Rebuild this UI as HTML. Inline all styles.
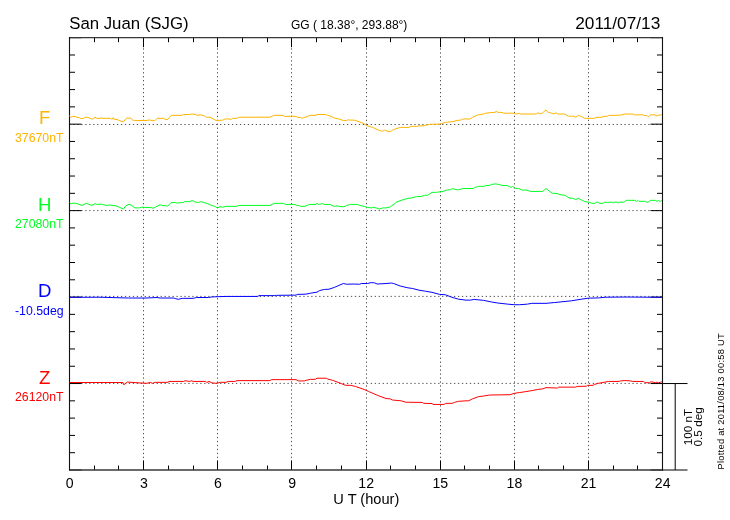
<!DOCTYPE html><html><head><meta charset="utf-8"><style>html,body{margin:0;padding:0;background:#fff;overflow:hidden;}svg{display:block;will-change:transform;}text{font-family:"Liberation Sans",sans-serif;}</style></head><body>
<svg width="730" height="520" viewBox="0 0 730 520">
<line x1="143.50" y1="37.7" x2="143.50" y2="470.0" stroke="#505050" stroke-width="1" stroke-dasharray="1.3 2.665" stroke-dashoffset="1.245"/>
<line x1="217.50" y1="37.7" x2="217.50" y2="470.0" stroke="#505050" stroke-width="1" stroke-dasharray="1.3 2.665" stroke-dashoffset="1.245"/>
<line x1="291.50" y1="37.7" x2="291.50" y2="470.0" stroke="#505050" stroke-width="1" stroke-dasharray="1.3 2.665" stroke-dashoffset="1.245"/>
<line x1="366.50" y1="37.7" x2="366.50" y2="470.0" stroke="#505050" stroke-width="1" stroke-dasharray="1.3 2.665" stroke-dashoffset="1.245"/>
<line x1="440.50" y1="37.7" x2="440.50" y2="470.0" stroke="#505050" stroke-width="1" stroke-dasharray="1.3 2.665" stroke-dashoffset="1.245"/>
<line x1="514.50" y1="37.7" x2="514.50" y2="470.0" stroke="#505050" stroke-width="1" stroke-dasharray="1.3 2.665" stroke-dashoffset="1.245"/>
<line x1="588.50" y1="37.7" x2="588.50" y2="470.0" stroke="#505050" stroke-width="1" stroke-dasharray="1.3 2.665" stroke-dashoffset="1.245"/>
<line x1="69.5" y1="124.50" x2="662.50" y2="124.50" stroke="#505050" stroke-width="1" stroke-dasharray="1.3 2.665" stroke-dashoffset="0.110"/>
<line x1="69.5" y1="210.60" x2="662.50" y2="210.60" stroke="#505050" stroke-width="1" stroke-dasharray="1.3 2.665" stroke-dashoffset="0.110"/>
<line x1="69.5" y1="296.40" x2="662.50" y2="296.40" stroke="#505050" stroke-width="1" stroke-dasharray="1.3 2.665" stroke-dashoffset="0.110"/>
<line x1="69.5" y1="383.40" x2="662.50" y2="383.40" stroke="#505050" stroke-width="1" stroke-dasharray="1.3 2.665" stroke-dashoffset="0.110"/>
<line x1="69.50" y1="470.0" x2="69.50" y2="460.5" stroke="#000" stroke-width="1"/>
<line x1="69.50" y1="37.7" x2="69.50" y2="47.2" stroke="#000" stroke-width="1"/>
<line x1="94.50" y1="470.0" x2="94.50" y2="465.5" stroke="#000" stroke-width="1"/>
<line x1="94.50" y1="37.7" x2="94.50" y2="42.2" stroke="#000" stroke-width="1"/>
<line x1="118.50" y1="470.0" x2="118.50" y2="465.5" stroke="#000" stroke-width="1"/>
<line x1="118.50" y1="37.7" x2="118.50" y2="42.2" stroke="#000" stroke-width="1"/>
<line x1="143.50" y1="470.0" x2="143.50" y2="460.5" stroke="#000" stroke-width="1"/>
<line x1="143.50" y1="37.7" x2="143.50" y2="47.2" stroke="#000" stroke-width="1"/>
<line x1="168.50" y1="470.0" x2="168.50" y2="465.5" stroke="#000" stroke-width="1"/>
<line x1="168.50" y1="37.7" x2="168.50" y2="42.2" stroke="#000" stroke-width="1"/>
<line x1="193.50" y1="470.0" x2="193.50" y2="465.5" stroke="#000" stroke-width="1"/>
<line x1="193.50" y1="37.7" x2="193.50" y2="42.2" stroke="#000" stroke-width="1"/>
<line x1="217.50" y1="470.0" x2="217.50" y2="460.5" stroke="#000" stroke-width="1"/>
<line x1="217.50" y1="37.7" x2="217.50" y2="47.2" stroke="#000" stroke-width="1"/>
<line x1="242.50" y1="470.0" x2="242.50" y2="465.5" stroke="#000" stroke-width="1"/>
<line x1="242.50" y1="37.7" x2="242.50" y2="42.2" stroke="#000" stroke-width="1"/>
<line x1="267.50" y1="470.0" x2="267.50" y2="465.5" stroke="#000" stroke-width="1"/>
<line x1="267.50" y1="37.7" x2="267.50" y2="42.2" stroke="#000" stroke-width="1"/>
<line x1="291.50" y1="470.0" x2="291.50" y2="460.5" stroke="#000" stroke-width="1"/>
<line x1="291.50" y1="37.7" x2="291.50" y2="47.2" stroke="#000" stroke-width="1"/>
<line x1="316.50" y1="470.0" x2="316.50" y2="465.5" stroke="#000" stroke-width="1"/>
<line x1="316.50" y1="37.7" x2="316.50" y2="42.2" stroke="#000" stroke-width="1"/>
<line x1="341.50" y1="470.0" x2="341.50" y2="465.5" stroke="#000" stroke-width="1"/>
<line x1="341.50" y1="37.7" x2="341.50" y2="42.2" stroke="#000" stroke-width="1"/>
<line x1="366.50" y1="470.0" x2="366.50" y2="460.5" stroke="#000" stroke-width="1"/>
<line x1="366.50" y1="37.7" x2="366.50" y2="47.2" stroke="#000" stroke-width="1"/>
<line x1="390.50" y1="470.0" x2="390.50" y2="465.5" stroke="#000" stroke-width="1"/>
<line x1="390.50" y1="37.7" x2="390.50" y2="42.2" stroke="#000" stroke-width="1"/>
<line x1="415.50" y1="470.0" x2="415.50" y2="465.5" stroke="#000" stroke-width="1"/>
<line x1="415.50" y1="37.7" x2="415.50" y2="42.2" stroke="#000" stroke-width="1"/>
<line x1="440.50" y1="470.0" x2="440.50" y2="460.5" stroke="#000" stroke-width="1"/>
<line x1="440.50" y1="37.7" x2="440.50" y2="47.2" stroke="#000" stroke-width="1"/>
<line x1="464.50" y1="470.0" x2="464.50" y2="465.5" stroke="#000" stroke-width="1"/>
<line x1="464.50" y1="37.7" x2="464.50" y2="42.2" stroke="#000" stroke-width="1"/>
<line x1="489.50" y1="470.0" x2="489.50" y2="465.5" stroke="#000" stroke-width="1"/>
<line x1="489.50" y1="37.7" x2="489.50" y2="42.2" stroke="#000" stroke-width="1"/>
<line x1="514.50" y1="470.0" x2="514.50" y2="460.5" stroke="#000" stroke-width="1"/>
<line x1="514.50" y1="37.7" x2="514.50" y2="47.2" stroke="#000" stroke-width="1"/>
<line x1="538.50" y1="470.0" x2="538.50" y2="465.5" stroke="#000" stroke-width="1"/>
<line x1="538.50" y1="37.7" x2="538.50" y2="42.2" stroke="#000" stroke-width="1"/>
<line x1="563.50" y1="470.0" x2="563.50" y2="465.5" stroke="#000" stroke-width="1"/>
<line x1="563.50" y1="37.7" x2="563.50" y2="42.2" stroke="#000" stroke-width="1"/>
<line x1="588.50" y1="470.0" x2="588.50" y2="460.5" stroke="#000" stroke-width="1"/>
<line x1="588.50" y1="37.7" x2="588.50" y2="47.2" stroke="#000" stroke-width="1"/>
<line x1="613.50" y1="470.0" x2="613.50" y2="465.5" stroke="#000" stroke-width="1"/>
<line x1="613.50" y1="37.7" x2="613.50" y2="42.2" stroke="#000" stroke-width="1"/>
<line x1="637.50" y1="470.0" x2="637.50" y2="465.5" stroke="#000" stroke-width="1"/>
<line x1="637.50" y1="37.7" x2="637.50" y2="42.2" stroke="#000" stroke-width="1"/>
<line x1="662.50" y1="470.0" x2="662.50" y2="460.5" stroke="#000" stroke-width="1"/>
<line x1="662.50" y1="37.7" x2="662.50" y2="47.2" stroke="#000" stroke-width="1"/>
<line x1="69.5" y1="37.70" x2="81.5" y2="37.70" stroke="#000" stroke-width="1"/>
<line x1="662.50" y1="37.70" x2="650.50" y2="37.70" stroke="#000" stroke-width="1"/>
<line x1="69.5" y1="54.99" x2="75.0" y2="54.99" stroke="#000" stroke-width="1"/>
<line x1="662.50" y1="54.99" x2="657.00" y2="54.99" stroke="#000" stroke-width="1"/>
<line x1="69.5" y1="72.28" x2="75.0" y2="72.28" stroke="#000" stroke-width="1"/>
<line x1="662.50" y1="72.28" x2="657.00" y2="72.28" stroke="#000" stroke-width="1"/>
<line x1="69.5" y1="89.58" x2="75.0" y2="89.58" stroke="#000" stroke-width="1"/>
<line x1="662.50" y1="89.58" x2="657.00" y2="89.58" stroke="#000" stroke-width="1"/>
<line x1="69.5" y1="106.87" x2="75.0" y2="106.87" stroke="#000" stroke-width="1"/>
<line x1="662.50" y1="106.87" x2="657.00" y2="106.87" stroke="#000" stroke-width="1"/>
<line x1="69.5" y1="124.16" x2="81.5" y2="124.16" stroke="#000" stroke-width="1"/>
<line x1="662.50" y1="124.16" x2="650.50" y2="124.16" stroke="#000" stroke-width="1"/>
<line x1="69.5" y1="141.45" x2="75.0" y2="141.45" stroke="#000" stroke-width="1"/>
<line x1="662.50" y1="141.45" x2="657.00" y2="141.45" stroke="#000" stroke-width="1"/>
<line x1="69.5" y1="158.74" x2="75.0" y2="158.74" stroke="#000" stroke-width="1"/>
<line x1="662.50" y1="158.74" x2="657.00" y2="158.74" stroke="#000" stroke-width="1"/>
<line x1="69.5" y1="176.04" x2="75.0" y2="176.04" stroke="#000" stroke-width="1"/>
<line x1="662.50" y1="176.04" x2="657.00" y2="176.04" stroke="#000" stroke-width="1"/>
<line x1="69.5" y1="193.33" x2="75.0" y2="193.33" stroke="#000" stroke-width="1"/>
<line x1="662.50" y1="193.33" x2="657.00" y2="193.33" stroke="#000" stroke-width="1"/>
<line x1="69.5" y1="210.62" x2="81.5" y2="210.62" stroke="#000" stroke-width="1"/>
<line x1="662.50" y1="210.62" x2="650.50" y2="210.62" stroke="#000" stroke-width="1"/>
<line x1="69.5" y1="227.91" x2="75.0" y2="227.91" stroke="#000" stroke-width="1"/>
<line x1="662.50" y1="227.91" x2="657.00" y2="227.91" stroke="#000" stroke-width="1"/>
<line x1="69.5" y1="245.20" x2="75.0" y2="245.20" stroke="#000" stroke-width="1"/>
<line x1="662.50" y1="245.20" x2="657.00" y2="245.20" stroke="#000" stroke-width="1"/>
<line x1="69.5" y1="262.50" x2="75.0" y2="262.50" stroke="#000" stroke-width="1"/>
<line x1="662.50" y1="262.50" x2="657.00" y2="262.50" stroke="#000" stroke-width="1"/>
<line x1="69.5" y1="279.79" x2="75.0" y2="279.79" stroke="#000" stroke-width="1"/>
<line x1="662.50" y1="279.79" x2="657.00" y2="279.79" stroke="#000" stroke-width="1"/>
<line x1="69.5" y1="297.08" x2="81.5" y2="297.08" stroke="#000" stroke-width="1"/>
<line x1="662.50" y1="297.08" x2="650.50" y2="297.08" stroke="#000" stroke-width="1"/>
<line x1="69.5" y1="314.37" x2="75.0" y2="314.37" stroke="#000" stroke-width="1"/>
<line x1="662.50" y1="314.37" x2="657.00" y2="314.37" stroke="#000" stroke-width="1"/>
<line x1="69.5" y1="331.66" x2="75.0" y2="331.66" stroke="#000" stroke-width="1"/>
<line x1="662.50" y1="331.66" x2="657.00" y2="331.66" stroke="#000" stroke-width="1"/>
<line x1="69.5" y1="348.96" x2="75.0" y2="348.96" stroke="#000" stroke-width="1"/>
<line x1="662.50" y1="348.96" x2="657.00" y2="348.96" stroke="#000" stroke-width="1"/>
<line x1="69.5" y1="366.25" x2="75.0" y2="366.25" stroke="#000" stroke-width="1"/>
<line x1="662.50" y1="366.25" x2="657.00" y2="366.25" stroke="#000" stroke-width="1"/>
<line x1="69.5" y1="383.54" x2="81.5" y2="383.54" stroke="#000" stroke-width="1"/>
<line x1="662.50" y1="383.54" x2="650.50" y2="383.54" stroke="#000" stroke-width="1"/>
<line x1="69.5" y1="400.83" x2="75.0" y2="400.83" stroke="#000" stroke-width="1"/>
<line x1="662.50" y1="400.83" x2="657.00" y2="400.83" stroke="#000" stroke-width="1"/>
<line x1="69.5" y1="418.12" x2="75.0" y2="418.12" stroke="#000" stroke-width="1"/>
<line x1="662.50" y1="418.12" x2="657.00" y2="418.12" stroke="#000" stroke-width="1"/>
<line x1="69.5" y1="435.42" x2="75.0" y2="435.42" stroke="#000" stroke-width="1"/>
<line x1="662.50" y1="435.42" x2="657.00" y2="435.42" stroke="#000" stroke-width="1"/>
<line x1="69.5" y1="452.71" x2="75.0" y2="452.71" stroke="#000" stroke-width="1"/>
<line x1="662.50" y1="452.71" x2="657.00" y2="452.71" stroke="#000" stroke-width="1"/>
<line x1="69.5" y1="470.00" x2="81.5" y2="470.00" stroke="#000" stroke-width="1"/>
<line x1="662.50" y1="470.00" x2="650.50" y2="470.00" stroke="#000" stroke-width="1"/>
<line x1="69.0" y1="37.7" x2="663.0" y2="37.7" stroke="#383838" stroke-width="1.3"/>
<line x1="69.0" y1="470.0" x2="663.0" y2="470.0" stroke="#383838" stroke-width="1.3"/>
<line x1="69.5" y1="37.1" x2="69.5" y2="470.6" stroke="#111" stroke-width="1.1"/>
<line x1="662.5" y1="37.1" x2="662.5" y2="470.6" stroke="#111" stroke-width="1.1"/>
<polyline points="69.30,115.93 70.90,117.33 72.60,116.43 75.30,116.43 77.00,117.33 79.20,117.53 80.20,118.43 83.50,118.43 85.20,117.33 87.90,117.33 89.60,118.13 92.30,119.23 95.00,117.33 96.70,118.33 101.10,118.33 101.60,117.33 102.20,118.33 110.40,118.33 111.50,119.23 113.10,118.63 113.30,117.53 114.20,119.23 117.00,119.53 119.70,120.63 123.50,121.93 125.70,118.83 126.80,118.13 130.70,118.13 132.80,120.13 134.50,120.53 146.00,120.53 149.80,119.93 152.00,120.63 154.80,120.63 157.00,118.33 163.50,118.33 165.20,119.43 167.90,119.43 171.20,115.33 182.20,115.33 183.30,114.53 189.80,114.53 191.50,113.93 195.90,114.53 197.00,115.33 200.80,114.83 204.10,115.73 206.30,117.23 210.10,117.23 216.10,120.53 222.70,120.13 225.50,118.83 231.50,119.23 232.60,118.33 237.00,118.33 238.60,117.23 269.80,117.23 272.00,116.23 274.20,115.33 283.00,115.33 284.60,116.43 291.80,116.23 296.10,116.43 297.80,117.33 300.50,117.53 302.20,118.43 303.80,117.33 306.00,117.23 309.80,115.33 315.90,115.33 317.00,114.53 325.20,114.53 327.40,115.33 329.60,115.73 334.50,118.13 337.80,118.63 343.30,120.53 346.50,120.53 348.20,119.73 349.80,120.13 354.20,120.13 359.70,121.93 363.00,123.23 367.40,125.83 372.80,127.43 379.40,130.53 382.70,131.23 384.40,130.13 386.00,130.93 390.40,131.53 392.60,130.13 395.90,128.73 400.20,127.43 409.00,127.43 410.70,126.33 416.70,126.33 418.90,125.83 423.80,125.83 425.50,125.23 429.80,124.33 439.70,124.13 446.30,122.23 454.00,121.43 456.10,120.53 460.50,120.13 462.70,119.23 466.00,118.83 469.30,119.23 472.60,117.33 478.10,114.83 483.50,114.03 485.70,113.23 490.10,112.63 495.00,112.33 496.10,111.33 497.80,112.33 502.20,112.43 503.80,113.23 514.20,113.23 515.90,114.23 519.20,113.23 520.80,114.03 536.10,114.03 537.80,112.83 540.50,113.73 542.20,113.23 546.00,109.93 548.20,112.33 550.90,112.93 553.10,114.03 555.90,112.83 558.10,114.03 564.60,114.03 568.50,116.23 574.00,116.23 575.60,117.33 578.30,115.33 581.10,116.43 584.90,118.33 594.80,118.33 595.90,117.33 601.90,117.33 603.00,116.43 607.40,116.23 608.50,115.43 619.60,115.23 625.30,114.03 633.10,114.03 634.40,114.83 643.00,114.83 644.60,115.63 647.10,115.63 648.30,116.83 650.40,114.83 655.30,114.83 656.30,116.03 658.60,115.23 661.90,114.63" fill="none" stroke="#ffb400" stroke-width="1.0" stroke-linejoin="round"/>
<polyline points="69.80,202.53 70.90,203.93 73.70,203.03 77.00,203.63 81.90,205.43 86.30,203.33 91.80,205.43 95.00,203.63 96.70,204.43 101.10,204.13 106.50,205.43 109.80,205.03 115.90,205.83 119.70,207.43 123.50,209.03 125.70,205.83 129.00,204.33 131.80,205.43 135.00,207.93 139.40,207.93 141.60,207.23 146.00,207.43 150.90,207.43 153.10,208.33 155.90,206.83 160.20,204.73 161.90,205.43 166.30,205.83 167.40,206.33 171.20,202.53 175.60,202.53 176.70,203.03 183.30,202.53 184.40,201.63 189.80,201.63 192.00,200.53 194.20,201.63 195.90,202.23 198.60,202.53 200.80,201.63 204.10,202.53 207.40,203.63 210.70,205.03 214.50,206.33 217.80,207.93 220.00,206.63 222.70,207.23 226.00,206.33 237.00,206.33 238.10,205.43 269.80,205.43 274.20,203.33 283.50,203.33 285.20,204.43 295.00,204.43 296.70,205.43 298.90,205.43 300.50,206.33 304.90,206.33 306.00,205.83 309.30,204.43 315.90,204.43 317.00,203.33 318.60,204.43 322.40,203.63 324.10,204.43 330.10,204.43 331.80,205.43 334.50,206.33 337.80,205.83 338.90,206.33 343.80,206.83 346.50,205.43 350.40,204.43 357.50,204.43 359.70,205.43 364.10,206.33 367.40,207.43 371.80,207.93 372.80,207.23 376.10,207.93 379.40,209.03 382.70,207.93 386.00,207.93 390.40,206.83 397.00,201.83 403.00,199.73 407.90,198.33 411.20,198.03 416.70,196.63 421.10,196.43 424.40,195.33 427.60,195.33 432.00,192.33 436.40,192.33 443.00,191.43 446.30,190.13 450.70,189.63 451.80,188.73 458.30,189.83 462.70,188.53 466.00,188.53 473.70,188.53 474.80,187.43 478.60,186.33 484.10,186.33 485.70,185.43 489.60,185.43 491.20,184.53 495.60,183.83 498.90,184.53 502.20,185.43 507.60,185.63 510.90,187.43 512.60,186.33 514.80,188.23 518.60,188.53 523.00,190.33 525.70,189.83 530.70,191.43 542.70,191.43 546.00,188.53 550.90,192.33 552.60,193.33 557.00,193.33 559.20,194.53 565.20,195.33 569.00,198.03 572.80,198.33 575.60,199.43 578.30,198.33 581.10,199.73 584.90,201.63 589.80,202.43 592.00,203.33 594.80,203.33 597.00,201.83 599.70,203.33 603.00,203.33 604.10,202.23 607.40,202.43 612.60,202.13 613.40,203.23 614.20,202.13 617.50,202.13 618.20,203.23 619.20,202.13 624.10,202.13 626.10,200.33 634.80,200.33 636.40,201.33 638.10,200.53 638.90,201.33 645.50,201.33 647.10,202.43 648.70,201.73 650.80,200.33 655.30,200.33 657.00,201.33 658.60,200.53 660.20,201.33 661.90,200.63" fill="none" stroke="#00ff22" stroke-width="1.0" stroke-linejoin="round"/>
<polyline points="69.50,297.33 100.00,297.23 128.50,298.03 146.00,298.03 157.00,297.53 160.20,298.03 173.40,298.03 175.60,298.63 178.30,299.33 182.20,298.33 193.10,298.33 196.40,297.53 208.50,297.53 211.80,296.93 217.20,296.73 226.00,296.43 257.80,296.43 258.90,295.63 274.20,295.63 276.40,295.33 296.10,295.13 297.20,294.43 306.00,294.13 310.40,293.23 317.00,292.13 319.70,290.53 324.60,289.43 329.00,289.23 334.50,287.33 337.80,285.93 343.30,283.53 346.50,284.23 353.10,284.03 359.70,284.23 361.30,283.53 367.40,283.53 371.20,282.63 374.50,282.83 377.20,284.03 386.00,283.53 391.50,283.03 393.70,283.53 400.20,286.03 407.90,287.83 412.30,288.43 418.90,290.13 425.50,291.23 432.00,292.33 439.70,294.43 445.20,294.73 451.80,297.23 458.30,299.13 466.00,300.13 470.40,300.13 474.20,299.43 483.50,300.33 491.20,301.93 497.80,303.03 507.60,304.13 514.20,304.73 519.70,304.73 527.40,304.13 531.80,303.33 546.00,303.33 554.80,302.53 571.20,300.83 581.10,299.23 588.70,298.13 598.60,297.93 605.20,297.23 626.00,297.03 662.00,297.33" fill="none" stroke="#0000ff" stroke-width="1.0" stroke-linejoin="round"/>
<polyline points="69.50,382.53 123.00,382.53 123.50,384.53 125.00,384.03 127.40,382.03 131.00,382.33 146.00,383.33 150.40,382.53 152.60,383.33 155.30,382.33 167.90,382.33 169.00,381.43 183.80,381.43 184.90,380.73 189.80,381.43 191.50,380.73 193.10,381.43 205.70,381.43 206.80,382.53 209.00,381.43 211.80,382.83 216.10,383.33 220.50,382.33 226.00,382.33 228.20,381.43 235.30,381.43 237.00,380.63 269.80,380.63 271.50,379.63 296.10,379.63 298.30,380.93 304.40,380.93 306.00,380.33 310.40,379.33 315.30,379.33 317.00,378.23 326.30,378.23 327.90,379.13 332.30,380.23 338.90,382.63 345.50,385.33 350.90,385.33 355.30,386.43 363.00,389.03 368.50,391.43 377.20,395.23 386.00,398.53 390.40,398.93 392.60,400.03 401.30,400.83 405.70,402.23 422.20,402.43 423.80,403.33 432.00,403.53 433.10,404.43 444.10,404.43 445.70,403.33 452.30,403.33 454.50,402.43 458.30,401.33 466.00,400.83 468.70,400.73 472.60,398.83 478.60,396.63 483.50,396.03 489.60,395.03 509.80,394.73 514.20,393.33 519.70,392.53 525.20,391.73 531.80,390.63 537.20,389.53 542.70,388.83 546.00,387.63 557.50,388.03 558.60,387.13 575.60,387.13 577.20,386.43 586.50,386.23 587.60,385.33 593.10,385.33 594.20,384.53 597.50,383.43 603.00,382.53 608.50,381.43 619.20,381.43 620.40,380.93 624.90,380.53 630.70,380.93 632.30,381.43 643.80,381.43 645.00,382.73 649.60,382.73 650.80,381.83 653.30,382.13 655.30,382.73 657.00,382.13 658.60,382.73 660.20,382.33 661.90,381.83" fill="none" stroke="#ff0000" stroke-width="1.0" stroke-linejoin="round"/>
<line x1="662.50" y1="383.54" x2="687.5" y2="383.54" stroke="#000" stroke-width="1"/>
<line x1="662.50" y1="470.0" x2="687.5" y2="470.0" stroke="#000" stroke-width="1"/>
<line x1="675.2" y1="383.54" x2="675.2" y2="470.0" stroke="#000" stroke-width="1"/>
<text x="69.2" y="28.6" font-size="16.8">San Juan (SJG)</text>
<text x="349.2" y="28.8" font-size="12" text-anchor="middle">GG ( 18.38°, 293.88°)</text>
<text x="660.3" y="28.8" font-size="17.25" text-anchor="end">2011/07/13</text>
<text x="69.70" y="488" font-size="14.1" text-anchor="middle">0</text>
<text x="143.82" y="488" font-size="14.1" text-anchor="middle">3</text>
<text x="217.95" y="488" font-size="14.1" text-anchor="middle">6</text>
<text x="292.07" y="488" font-size="14.1" text-anchor="middle">9</text>
<text x="366.20" y="488" font-size="14.1" text-anchor="middle">12</text>
<text x="440.32" y="488" font-size="14.1" text-anchor="middle">15</text>
<text x="514.45" y="488" font-size="14.1" text-anchor="middle">18</text>
<text x="588.58" y="488" font-size="14.1" text-anchor="middle">21</text>
<text x="662.70" y="488" font-size="14.1" text-anchor="middle">24</text>
<text x="366.3" y="503.8" font-size="14.6" text-anchor="middle">U T (hour)</text>
<text x="44.6" y="124.0" font-size="18.6" text-anchor="middle" fill="#ffb400">F</text>
<text x="39.3" y="142.3" font-size="12.3" text-anchor="middle" fill="#ffb400">37670nT</text>
<text x="44.6" y="211.0" font-size="18.6" text-anchor="middle" fill="#00ff22">H</text>
<text x="39.3" y="228.0" font-size="12.3" text-anchor="middle" fill="#00ff22">27080nT</text>
<text x="44.6" y="297.4" font-size="18.6" text-anchor="middle" fill="#0000ff">D</text>
<text x="39.3" y="315.1" font-size="12.3" text-anchor="middle" fill="#0000ff">-10.5deg</text>
<text x="44.6" y="384.2" font-size="18.6" text-anchor="middle" fill="#ff0000">Z</text>
<text x="39.3" y="401.4" font-size="12.3" text-anchor="middle" fill="#ff0000">26120nT</text>
<text transform="translate(692.4,427) rotate(-90)" font-size="11.7" text-anchor="middle">100 nT</text>
<text transform="translate(701.9,426.8) rotate(-90)" font-size="11.8" text-anchor="middle">0.5 deg</text>
<text transform="translate(724.2,401.3) rotate(-90)" font-size="9.3" letter-spacing="0.26" text-anchor="middle">Plotted at 2011/08/13 00:58 UT</text>
</svg></body></html>
